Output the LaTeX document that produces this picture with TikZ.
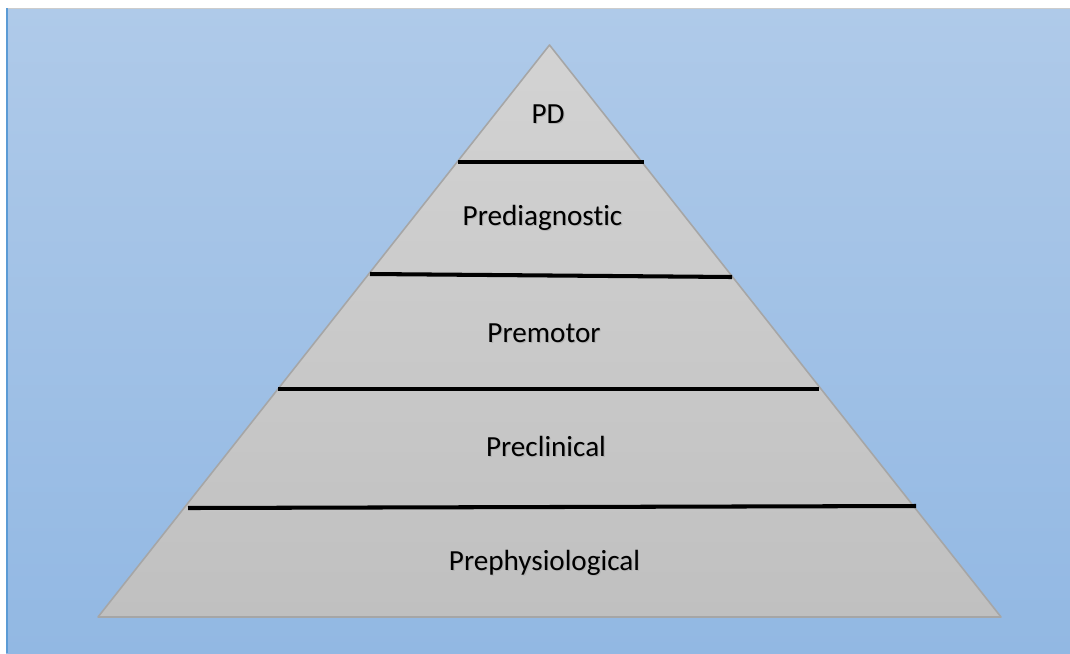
\documentclass[tikz,border=0pt]{standalone}
\usepackage{fontspec}
\setmainfont{Carlito}[Ligatures=NoCommon]
\usetikzlibrary{positioning}

\definecolor{skytop}{HTML}{AFCAE9}
\definecolor{skybot}{HTML}{92B8E3}
\definecolor{tiertop}{HTML}{D3D3D3}
\definecolor{tierbot}{HTML}{C0C0C0}
\definecolor{tieredge}{HTML}{A6A6A6}
\definecolor{frameblue}{HTML}{5B9BD5}

% label with a soft drop shadow
\newcommand{\shadowtext}[1]{\makebox[0pt][l]{\hspace{0.6pt}\raisebox{-0.6pt}{\textcolor{black!30}{#1}}}#1}

\tikzset{
	tier/.style={anchor=base, inner sep=0pt, font=\fontsize{16.6}{20}\selectfont},
	divider/.style={line width=2.3pt, black},
}

\begin{document}
\begin{tikzpicture}[x=0.02cm, y=-0.02cm]
	\useasboundingbox (0,0) rectangle (1070,653);
	% page and backdrop
	\fill[white] (0,0) rectangle (1070,653);
	\shade[top color=skytop, bottom color=skybot] (6,8) rectangle (1070,653);
	\draw[black!20, line width=0.8pt] (6,8.5) -- (1070,8.5);
	\draw[frameblue, line width=1.1pt] (6.8,8) -- (6.8,653);
	
	% the pyramid
	\coordinate (apex) at (549.5,45);
	\coordinate (baseL) at (98,617);
	\coordinate (baseR) at (1001,617);
	\shadedraw[top color=tiertop, bottom color=tierbot, draw=tieredge, line width=0.9pt, line join=round] (apex) -- (baseR) -- (baseL) -- cycle;
	
	% dividers between the tiers
	\coordinate (d1l) at (458,162);
	\coordinate (d1r) at (644,162);
	\coordinate (d2l) at (370,274);
	\coordinate (d2r) at (732,277);
	\coordinate (d3l) at (278,389);
	\coordinate (d3r) at (819,389);
	\coordinate (d4l) at (188,508);
	\coordinate (d4r) at (916,506);
	\draw[divider] (d1l) -- (d1r);
	\draw[divider] (d2l) -- (d2r);
	\draw[divider] (d3l) -- (d3r);
	\draw[divider] (d4l) -- (d4r);
	
	% tier labels
	\node[tier] (pd) at (548,123) {\shadowtext{PD}};
	\node[tier] (prediag) at (542.5,225) {\shadowtext{Prediagnostic}};
	\node[tier] (premotor) at (544,342) {\shadowtext{Premotor}};
	\node[tier] (preclin) at (546,456) {\shadowtext{Preclinical}};
	\node[tier] (prephys) at (544.5,570) {\shadowtext{Prephysiological}};
\end{tikzpicture}
\end{document}
